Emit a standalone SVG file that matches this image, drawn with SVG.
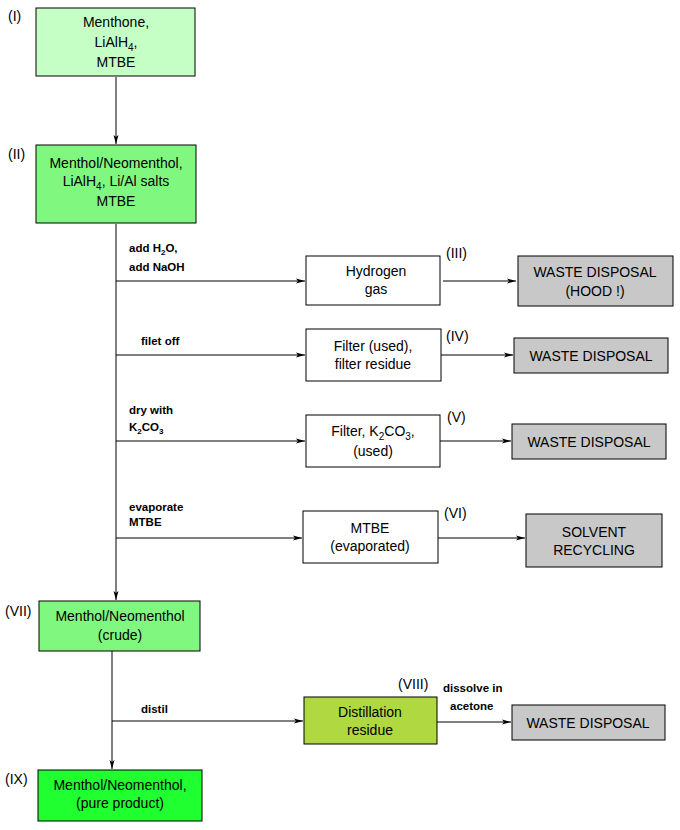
<svg xmlns="http://www.w3.org/2000/svg" width="680" height="830" viewBox="0 0 680 830">
<style>
.b{stroke:#000;stroke-width:1}
.t{font-family:"Liberation Sans",Arial,sans-serif;font-size:14px;text-anchor:middle;fill:#000}
.n{font-family:"Liberation Sans",Arial,sans-serif;font-size:14px;fill:#000}
.l{font-family:"Liberation Sans",Arial,sans-serif;font-size:11.5px;font-weight:bold;fill:#000}
.c{stroke:#000;stroke-width:1;fill:none}
</style>
<defs>
<marker id="a" markerWidth="10" markerHeight="6" refX="9" refY="3" orient="auto" markerUnits="userSpaceOnUse">
<path d="M0,0.5 L9,3 L0,5.5 L2,3 Z" fill="#000"/>
</marker>
</defs>
<rect width="680" height="830" fill="#fff"/>
<g id="connectors">
<path class="c" d="M116,77 V144" marker-end="url(#a)"/>
<path class="c" d="M116,224 V600" marker-end="url(#a)"/>
<path class="c" d="M116,281 H305" marker-end="url(#a)"/>
<path class="c" d="M443,281 H516" marker-end="url(#a)"/>
<path class="c" d="M116,355 H305" marker-end="url(#a)"/>
<path class="c" d="M441,355 H513" marker-end="url(#a)"/>
<path class="c" d="M116,441 H305" marker-end="url(#a)"/>
<path class="c" d="M440,441 H511" marker-end="url(#a)"/>
<path class="c" d="M116,538 H302" marker-end="url(#a)"/>
<path class="c" d="M438,538 H525" marker-end="url(#a)"/>
<path class="c" d="M112,651 V769" marker-end="url(#a)"/>
<path class="c" d="M112,721 H303" marker-end="url(#a)"/>
<path class="c" d="M437,722 H511" marker-end="url(#a)"/>
<text class="l" x="129" y="252">add H<tspan font-size="8" dy="3">2</tspan><tspan dy="-3">O,</tspan></text>
<text class="l" x="129" y="271">add NaOH</text>
<text class="l" x="141" y="345">filet off</text>
<text class="l" x="129" y="414">dry with</text>
<text class="l" x="129" y="431">K<tspan font-size="8" dy="3">2</tspan><tspan dy="-3">CO</tspan><tspan font-size="8" dy="3">3</tspan></text>
<text class="l" x="129" y="511">evaporate</text>
<text class="l" x="129" y="526">MTBE</text>
<text class="l" x="141" y="713">distil</text>
<text class="l" x="443" y="692">dissolve in</text>
<text class="l" x="450" y="710">acetone</text>
</g>
<g id="n1"><rect class="b" x="36" y="8" width="159" height="68" fill="#c6ffc6"/>
<text class="t" x="116" y="27">Menthone,</text>
<text class="t" x="116" y="47">LiAlH<tspan font-size="10" dy="4">4</tspan><tspan dy="-4">,</tspan></text>
<text class="t" x="116" y="67">MTBE</text>
<text class="n" x="8" y="21">(I)</text></g>
<g id="n2"><rect class="b" x="36" y="145" width="160" height="78" fill="#80f880"/>
<text class="t" x="116" y="168">Menthol/Neomenthol,</text>
<text class="t" x="116" y="186">LiAlH<tspan font-size="10" dy="4">4</tspan><tspan dy="-4">, Li/Al salts</tspan></text>
<text class="t" x="116" y="206">MTBE</text>
<text class="n" x="8" y="159">(II)</text></g>
<g id="n3"><rect class="b" x="306" y="256" width="134" height="49" fill="#fff"/>
<text class="t" x="376" y="276">Hydrogen</text>
<text class="t" x="376" y="294">gas</text>
<text class="n" x="446" y="258">(III)</text></g>
<g id="w3"><rect class="b" x="518" y="256" width="155" height="50" fill="#c8c8c8"/>
<text class="t" x="595" y="277">WASTE DISPOSAL</text>
<text class="t" x="595" y="296">(HOOD !)</text></g>
<g id="n4"><rect class="b" x="306" y="329" width="135" height="52" fill="#fff"/>
<text class="t" x="373" y="351">Filter (used),</text>
<text class="t" x="373" y="369">filter residue</text>
<text class="n" x="446" y="341">(IV)</text></g>
<g id="w4"><rect class="b" x="514" y="338" width="154" height="35" fill="#c8c8c8"/>
<text class="t" x="591" y="361">WASTE DISPOSAL</text></g>
<g id="n5"><rect class="b" x="306" y="415" width="134" height="52" fill="#fff"/>
<text class="t" x="373" y="436">Filter, K<tspan font-size="10" dy="4">2</tspan><tspan dy="-4">CO</tspan><tspan font-size="10" dy="4">3</tspan><tspan dy="-4">,</tspan></text>
<text class="t" x="373" y="456">(used)</text>
<text class="n" x="447" y="422">(V)</text></g>
<g id="w5"><rect class="b" x="512" y="424" width="154" height="35" fill="#c8c8c8"/>
<text class="t" x="589" y="447">WASTE DISPOSAL</text></g>
<g id="n6"><rect class="b" x="303" y="511" width="135" height="52" fill="#fff"/>
<text class="t" x="370" y="533">MTBE</text>
<text class="t" x="370" y="551">(evaporated)</text>
<text class="n" x="444" y="518">(VI)</text></g>
<g id="w6"><rect class="b" x="526" y="514" width="136" height="53" fill="#c8c8c8"/>
<text class="t" x="594" y="537">SOLVENT</text>
<text class="t" x="594" y="555">RECYCLING</text></g>
<g id="n7"><rect class="b" x="39" y="601" width="161" height="50" fill="#80f880"/>
<text class="t" x="120" y="621">Menthol/Neomenthol</text>
<text class="t" x="120" y="640">(crude)</text>
<text class="n" x="5" y="616">(VII)</text></g>
<g id="n8"><rect class="b" x="304" y="697" width="133" height="47" fill="#b0d840"/>
<text class="t" x="370" y="717">Distillation</text>
<text class="t" x="370" y="735">residue</text>
<text class="n" x="398" y="689">(VIII)</text></g>
<g id="w8"><rect class="b" x="512" y="705" width="153" height="35" fill="#c8c8c8"/>
<text class="t" x="588" y="728">WASTE DISPOSAL</text></g>
<g id="n9"><rect class="b" x="38" y="770" width="164" height="51" fill="#20ff30"/>
<text class="t" x="120" y="790">Menthol/Neomenthol,</text>
<text class="t" x="120" y="808">(pure product)</text>
<text class="n" x="5" y="784">(IX)</text></g>
</svg>
